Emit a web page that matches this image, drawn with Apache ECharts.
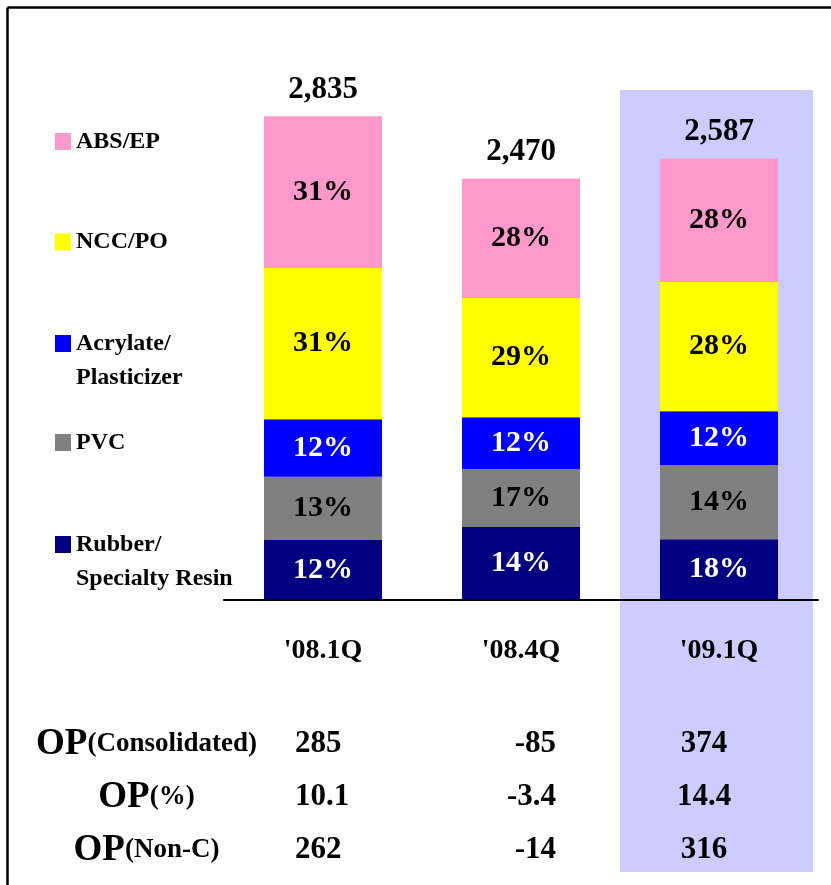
<!DOCTYPE html>
<html>
<head>
<meta charset="utf-8">
<script src="https://cdn.jsdelivr.net/npm/echarts@6/dist/echarts.min.js"></script>
<style>
  html, body { margin: 0; padding: 0; background: #fff; }
  #chart { width: 831px; height: 885px; }
</style>
</head>
<body>
<div id="chart"></div>
<script>
// quarters on the x axis
var quarters = ["'08.1Q", "'08.4Q", "'09.1Q"];

// stacked segments, bottom to top
var rubber = [349, 425, 354];
var pvc = [371, 340, 436];
var acrylate = [338, 305, 315];
var nccPo = [887, 698, 758];
var absEp = [890, 702, 724];

// share labels as printed in the bars
var rubberPct = [12, 14, 18];
var pvcPct = [13, 17, 14];
var acrylatePct = [12, 12, 12];
var nccPoPct = [31, 29, 28];
var absEpPct = [31, 28, 28];

// totals printed above the bars
var totals = [2835, 2470, 2587];

// table under the chart
var rowLabels = ['OP(Consolidated)', 'OP(%)', 'OP(Non-C)'];
var opConsolidated = [285, -85, 374];
var opPct = [10.1, -3.4, 14.4];
var opNonC = [262, -14, 316];

var FONT = '"Liberation Serif", "Times New Roman", serif';

var segments = [
  { name: 'Rubber/\nSpecialty Resin', data: rubber, pct: rubberPct, color: '#000080', text: '#fff' },
  { name: 'PVC', data: pvc, pct: pvcPct, color: '#808080', text: '#000' },
  { name: 'Acrylate/\nPlasticizer', data: acrylate, pct: acrylatePct, color: '#0000ff', text: '#fff' },
  { name: 'NCC/PO', data: nccPo, pct: nccPoPct, color: '#ffff00', text: '#000' },
  { name: 'ABS/EP', data: absEp, pct: absEpPct, color: '#ff99cc', text: '#000' }
];

var barSeries = segments.map(function (s) {
  return {
    name: s.name,
    type: 'bar',
    stack: 'total',
    barWidth: 118,
    data: s.data,
    itemStyle: { color: s.color },
    label: {
      show: true,
      position: 'inside',
      fontFamily: FONT,
      fontWeight: 'bold',
      fontSize: 30,
      color: s.text,
      formatter: function (p) { return s.pct[p.dataIndex] + '%'; }
    }
  };
});

// legend: one block per item, top to bottom, icon centred on these y values.
// two-line names get an empty first line so the first line sits beside the icon
var legendCenters = [141.5, 242, 343.5, 442.5, 544.5];
var legends = segments.slice().reverse().map(function (s, i) {
  var twoLines = s.name.indexOf('\n') >= 0;
  return {
    data: [s.name],
    left: 55,
    top: legendCenters[i] - (twoLines ? 51 : 17),
    padding: 0,
    itemWidth: 16,
    itemHeight: 17,
    icon: 'rect',
    selectedMode: false,
    formatter: twoLines ? '\n{name}' : '{name}',
    textStyle: {
      fontFamily: FONT,
      fontWeight: 'bold',
      fontSize: 24,
      lineHeight: 34,
      color: '#000'
    }
  };
});

// table cells, one scatter point per cell with its text as label
var tableRows = [opConsolidated, opPct, opNonC];
var colAlign = [
  { align: 'left', offset: -28 },
  { align: 'right', offset: 35 },
  { align: 'center', offset: -15 }
];
var cells = [];
tableRows.forEach(function (row, r) {
  row.forEach(function (v, c) {
    cells.push({
      value: [c, r],
      label: { align: colAlign[c].align, offset: [colAlign[c].offset, 0] },
      text: r === 1 ? v.toFixed(1) : String(v)
    });
  });
});

var chart = echarts.init(document.getElementById('chart'));

chart.setOption({
  animation: false,
  backgroundColor: '#fff',
  legend: legends,
  grid: [
    { left: 224, width: 594, top: 88, height: 511.6 },
    { left: 224, width: 594, top: 717.5, height: 159 }
  ],
  xAxis: [
    {
      type: 'category',
      gridIndex: 0,
      data: quarters,
      axisTick: { show: false },
      axisLine: { lineStyle: { color: '#000', width: 2 } },
      axisLabel: {
        margin: 37,
        fontFamily: FONT,
        fontWeight: 'bold',
        fontSize: 28,
        color: '#000'
      }
    },
    { type: 'category', gridIndex: 1, data: quarters, show: false }
  ],
  yAxis: [
    { type: 'value', gridIndex: 0, min: 0, max: 3000, show: false },
    {
      type: 'category',
      gridIndex: 1,
      data: rowLabels,
      inverse: true,
      axisLine: { show: false },
      axisTick: { show: false },
      splitLine: { show: false },
      axisLabel: {
        align: 'center',
        margin: 77.5,
        color: '#000',
        formatter: function (v) {
          return '{big|OP}{small|' + v.slice(2) + '}';
        },
        rich: {
          big: { fontFamily: FONT, fontWeight: 'bold', fontSize: 37, color: '#000' },
          small: { fontFamily: FONT, fontWeight: 'bold', fontSize: 27, color: '#000' }
        }
      }
    }
  ],
  series: barSeries.concat([
    {
      name: 'total',
      type: 'scatter',
      xAxisIndex: 0,
      yAxisIndex: 0,
      data: totals,
      symbolSize: 1,
      itemStyle: { color: 'rgba(0,0,0,0)', opacity: 1 },
      label: {
        show: true,
        position: 'top',
        distance: 10,
        fontFamily: FONT,
        fontWeight: 'bold',
        fontSize: 31,
        color: '#000',
        formatter: function (p) { return p.value.toLocaleString('en-US'); }
      }
    },
    {
      name: 'table',
      type: 'scatter',
      xAxisIndex: 1,
      yAxisIndex: 1,
      data: cells,
      symbolSize: 1,
      itemStyle: { color: 'rgba(0,0,0,0)', opacity: 1 },
      label: {
        show: true,
        position: 'inside',
        fontFamily: FONT,
        fontWeight: 'bold',
        fontSize: 31,
        color: '#000',
        formatter: function (p) { return cells[p.dataIndex].text; }
      }
    }
  ])
});

// highlight band behind the last quarter, plus the frame lines
var cx = chart.convertToPixel({ xAxisIndex: 0 }, quarters[2]);
chart.setOption({
  graphic: [
    {
      type: 'rect',
      z: -10,
      silent: true,
      shape: { x: cx - 99, y: 90, width: 193, height: 782 },
      style: { fill: '#ccccff' }
    },
    {
      type: 'line',
      silent: true,
      shape: { x1: 7.5, y1: 7.5, x2: 831, y2: 7.5 },
      style: { stroke: '#000', lineWidth: 2.5 }
    },
    {
      type: 'line',
      silent: true,
      shape: { x1: 7.5, y1: 7.5, x2: 7.5, y2: 885 },
      style: { stroke: '#000', lineWidth: 2.5 }
    }
  ]
});
</script>
</body>
</html>
